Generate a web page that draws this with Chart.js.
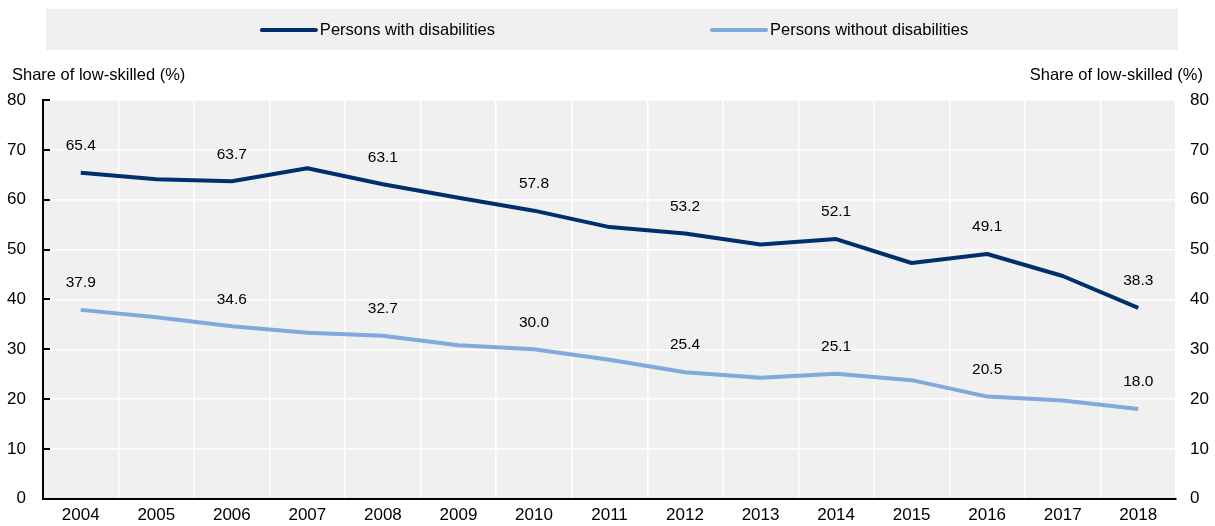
<!DOCTYPE html>
<html>
<head>
<meta charset="utf-8">
<title>Share of low-skilled persons</title>
<script src="https://cdn.jsdelivr.net/npm/chart.js@4/dist/chart.umd.min.js"></script>
<style>
  html, body { margin: 0; padding: 0; background: #ffffff; }
  #wrap { width: 1215px; height: 526px; position: relative; }
</style>
</head>
<body>
<div id="wrap"><canvas id="chart"></canvas></div>
<script>
// Years on the horizontal axis
const years = ['2004', '2005', '2006', '2007', '2008', '2009', '2010', '2011',
               '2012', '2013', '2014', '2015', '2016', '2017', '2018'];

// Share of low-skilled (%)
const withDisabilities = [65.4, 64.1, 63.7, 66.3, 63.1, 60.4, 57.8, 54.5,
                          53.2, 51.0, 52.1, 47.3, 49.1, 44.7, 38.3];
const withoutDisabilities = [37.9, 36.4, 34.6, 33.3, 32.7, 30.8, 30.0, 27.9,
                             25.4, 24.3, 25.1, 23.8, 20.5, 19.7, 18.0];

// Years whose values are printed above the lines
const labelledYears = ['2004', '2006', '2008', '2010', '2012', '2014', '2016', '2018'];

// Value axis ticks
const yTicks = [0, 10, 20, 30, 40, 50, 60, 70, 80];

const seriesNames = ['Persons with disabilities', 'Persons without disabilities'];
const axisTitle = 'Share of low-skilled (%)';

const FONT = "'Liberation Sans', Arial, Helvetica, sans-serif";
const PANEL = '#f0f0f0';
const DARK = '#002f6c';
const LIGHT = '#80a9dc';
const TEXT_SIZE = 16.5;
const TICK_SIZE = 17;
const VALUE_SIZE = 15.5;

// Grey panels behind the legend and the plot area
const panels = {
  id: 'panels',
  beforeDraw(chart) {
    const { ctx, chartArea: a } = chart;
    ctx.save();
    ctx.fillStyle = PANEL;
    ctx.fillRect(a.left + 3, 9, (a.right + 2) - (a.left + 3), 41);
    ctx.fillRect(a.left, a.top, a.right - a.left, a.bottom - a.top);
    ctx.restore();
  }
};

// Legend row, axis titles, inner tick marks and value labels
const decorations = {
  id: 'decorations',
  afterDraw(chart) {
    const { ctx, chartArea: a } = chart;
    ctx.save();

    // legend
    ctx.font = `${TEXT_SIZE}px ${FONT}`;
    ctx.textBaseline = 'middle';
    ctx.textAlign = 'left';
    const lineLen = 54, textGap = 4, itemGap = 217;
    const ds = chart.data.datasets;
    const widths = ds.map(d => lineLen + textGap + ctx.measureText(d.label).width);
    const total = widths.reduce((s, w) => s + w, 0) + itemGap * (ds.length - 1);
    let x = 615 - total / 2;
    const ly = 30;
    ds.forEach((d, i) => {
      ctx.strokeStyle = d.borderColor;
      ctx.lineWidth = 4;
      ctx.lineCap = 'round';
      ctx.beginPath();
      ctx.moveTo(x, ly);
      ctx.lineTo(x + lineLen, ly);
      ctx.stroke();
      ctx.fillStyle = '#000';
      ctx.fillText(d.label, x + lineLen + textGap, ly);
      x += widths[i] + itemGap;
    });

    // axis titles
    ctx.fillStyle = '#000';
    ctx.textAlign = 'left';
    ctx.fillText(axisTitle, 12, 75);
    ctx.textAlign = 'right';
    ctx.fillText(axisTitle, 1203, 75);

    // short tick marks inside the left axis
    const yScale = chart.scales.y;
    ctx.strokeStyle = '#000';
    ctx.lineWidth = 2;
    ctx.lineCap = 'butt';
    yScale.ticks.forEach(t => {
      const py = Math.round(yScale.getPixelForValue(t.value));
      ctx.beginPath();
      ctx.moveTo(a.left, py);
      ctx.lineTo(a.left + 7, py);
      ctx.stroke();
    });

    // value labels
    ctx.font = `${VALUE_SIZE}px ${FONT}`;
    ctx.textAlign = 'center';
    ctx.fillStyle = '#000';
    chart.data.datasets.forEach((d, di) => {
      const meta = chart.getDatasetMeta(di);
      chart.data.labels.forEach((yr, i) => {
        if (!labelledYears.includes(yr)) return;
        const pt = meta.data[i];
        ctx.fillText(d.data[i].toFixed(1), pt.x, pt.y - 27);
      });
    });

    ctx.restore();
  }
};

new Chart(document.getElementById('chart'), {
  type: 'line',
  data: {
    labels: years,
    datasets: [
      {
        label: seriesNames[0],
        data: withDisabilities,
        borderColor: DARK,
        backgroundColor: DARK,
        borderWidth: 4,
        pointRadius: 0,
        tension: 0,
        borderJoinStyle: 'round',
        yAxisID: 'y'
      },
      {
        label: seriesNames[1],
        data: withoutDisabilities,
        borderColor: LIGHT,
        backgroundColor: LIGHT,
        borderWidth: 4,
        pointRadius: 0,
        tension: 0,
        borderJoinStyle: 'round',
        yAxisID: 'y'
      }
    ]
  },
  options: {
    responsive: true,
    maintainAspectRatio: false,
    animation: false,
    layout: { padding: { top: 100, left: 0, right: 0, bottom: 0 } },
    plugins: {
      legend: { display: false },
      tooltip: { enabled: false }
    },
    scales: {
      x: {
        type: 'category',
        offset: true,
        grid: { color: '#ffffff', lineWidth: 1.5, offset: true, drawTicks: false },
        border: { color: '#000', width: 2 },
        ticks: { color: '#000', font: { family: FONT, size: TICK_SIZE }, padding: 6, maxRotation: 0, autoSkip: false },
        afterFit(s) { s.height = 26; }
      },
      y: {
        position: 'left',
        min: 0,
        max: 80,
        afterBuildTicks(s) { s.ticks = yTicks.map(v => ({ value: v })); },
        grid: { color: '#ffffff', lineWidth: 1.5, drawTicks: false },
        border: { color: '#000', width: 2 },
        ticks: { color: '#000', font: { family: FONT, size: TICK_SIZE }, padding: 17 },
        afterFit(s) { s.width = 43; }
      },
      y1: {
        position: 'right',
        min: 0,
        max: 80,
        afterBuildTicks(s) { s.ticks = yTicks.map(v => ({ value: v })); },
        grid: { display: false, drawTicks: false },
        border: { display: false },
        ticks: { color: '#000', font: { family: FONT, size: TICK_SIZE }, padding: 14 },
        afterFit(s) { s.width = 39; }
      }
    }
  },
  plugins: [panels, decorations]
});
</script>
</body>
</html>
